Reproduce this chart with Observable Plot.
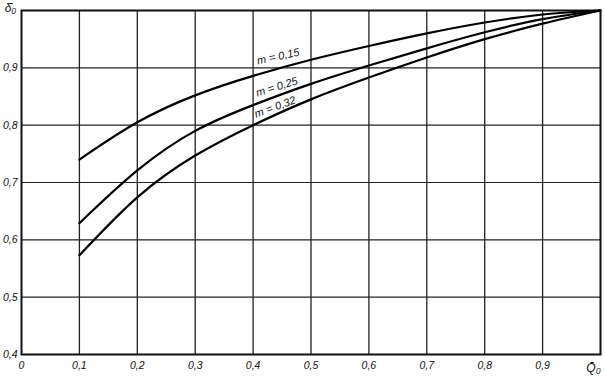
<!DOCTYPE html>
<html>
<head>
<meta charset="utf-8">
<script src="https://cdn.jsdelivr.net/npm/d3@7"></script>
<script src="https://cdn.jsdelivr.net/npm/@observablehq/plot@0.6"></script>
<style>
  html, body { margin: 0; padding: 0; background: #fff; }
  #chart svg { display: block; }
</style>
</head>
<body>
<div id="chart"></div>
<script>
// Relative flow Q̄0 (x)
const qValues = [0.1, 0.2, 0.3, 0.4, 0.5, 0.6, 0.7, 0.8, 0.9, 1.0];
// δ̄0 for each m
const deltaM015 = [0.740, 0.805, 0.852, 0.886, 0.914, 0.938, 0.960, 0.979, 0.993, 1.0];
const deltaM025 = [0.629, 0.721, 0.790, 0.835, 0.872, 0.904, 0.934, 0.962, 0.985, 1.0];
const deltaM032 = [0.573, 0.674, 0.747, 0.800, 0.845, 0.883, 0.918, 0.950, 0.977, 1.0];
const seriesNames = ["m = 0,15", "m = 0,25", "m = 0,32"];
const seriesValues = [deltaM015, deltaM025, deltaM032];

// Tick labels
const xTicks = [0, 0.1, 0.2, 0.3, 0.4, 0.5, 0.6, 0.7, 0.8, 0.9];
const yTicks = [0.4, 0.5, 0.6, 0.7, 0.8, 0.9];
const gridX = [0.1, 0.2, 0.3, 0.4, 0.5, 0.6, 0.7, 0.8, 0.9];
const gridY = [0.5, 0.6, 0.7, 0.8, 0.9];
const xAxisLabel = "Q̄₀";
const yAxisLabel = "δ̄₀";

// Curve label anchors (data coordinates, start of text) and rotation
const labelX = [0.408, 0.407, 0.405];
const labelY = [0.906, 0.850, 0.813];
const labelRotate = [-12, -17, -20];

const rows = [];
seriesNames.forEach((name, i) => {
  qValues.forEach((q, j) => rows.push({series: name, q, d: seriesValues[i][j]}));
});
const labels = seriesNames.map((name, i) => ({name, x: labelX[i], y: labelY[i], r: labelRotate[i]}));

const fmt = d => d === 0 ? "0" : d.toFixed(1).replace(".", ",");

const chart = Plot.plot({
  width: 605,
  height: 377,
  marginLeft: 21,
  marginRight: 5,
  marginTop: 10,
  marginBottom: 23,
  style: {fontFamily: "'Liberation Sans', Arial, sans-serif", fontStyle: "italic", fontSize: "10px", color: "#111", background: "#fff"},
  x: {domain: [0, 1], axis: null},
  y: {domain: [0.4, 1], axis: null},
  marks: [
    Plot.ruleX(gridX, {stroke: "#222", strokeWidth: 1.3}),
    Plot.ruleY(gridY, {stroke: "#222", strokeWidth: 1.1}),
    Plot.frame({stroke: "#111", strokeWidth: 2}),
    Plot.line(rows, {x: "q", y: "d", z: "series", curve: "natural", stroke: "#000", strokeWidth: 2.2}),
    Plot.text(labels, {x: "x", y: "y", text: "name", rotate: "r", textAnchor: "start", lineAnchor: "bottom", fontSize: 11, fill: "#111"}),
    Plot.axisX(xTicks, {tickFormat: fmt, tickSize: 0, tickPadding: 7, fontSize: 10.5, fontStyle: "italic"}),
    Plot.axisY(yTicks, {tickFormat: fmt, tickSize: 0, tickPadding: 4, fontSize: 10.5, fontStyle: "italic"}),
    Plot.text([xAxisLabel], {x: 1, y: 0.4, text: d => d, dy: 14, dx: -7, fontSize: 12, fill: "#111"}),
    Plot.text([yAxisLabel], {x: 0, y: 1, text: d => d, dy: -2, dx: -11, fontSize: 12, fill: "#111"})
  ]
});
document.getElementById("chart").appendChild(chart);
</script>
</body>
</html>
